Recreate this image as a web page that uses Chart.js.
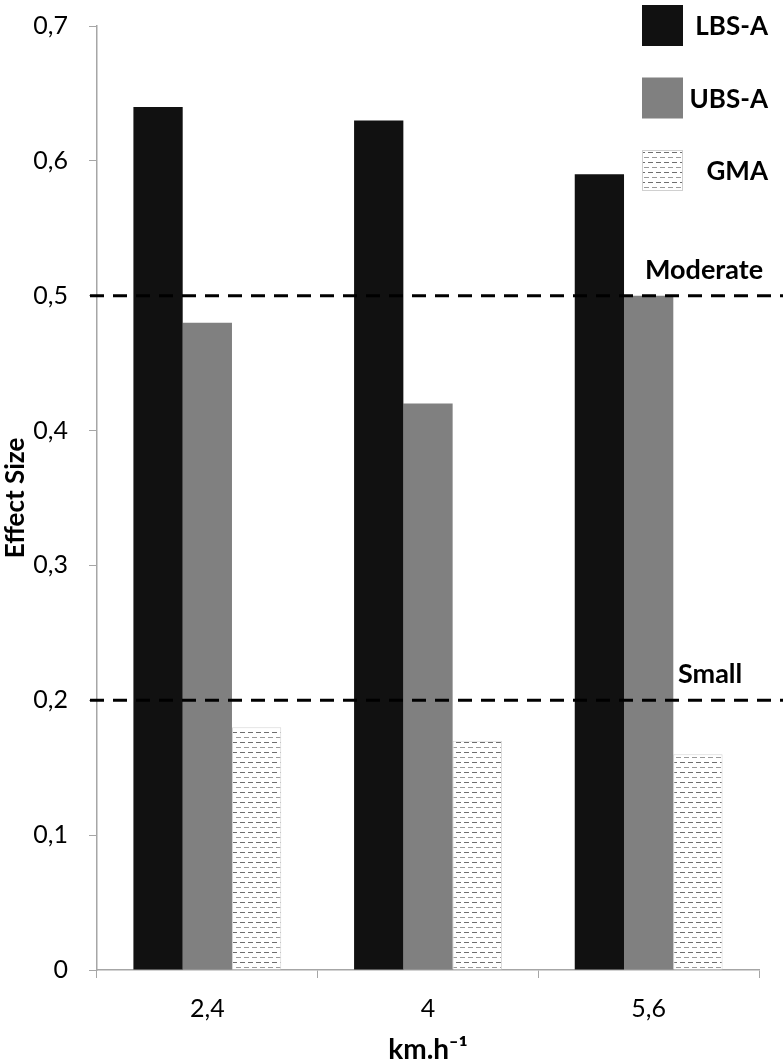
<!DOCTYPE html>
<html>
<head>
<meta charset="utf-8">
<script src="https://cdn.jsdelivr.net/npm/chart.js@4.4.1/dist/chart.umd.min.js"></script>
<style>
  html, body { margin: 0; padding: 0; background: #fff; }
  #wrap { width: 783px; height: 1062px; position: relative; }
</style>
</head>
<body>
<div id="wrap"><canvas id="esChart"></canvas></div>
<script>
// speeds on the x axis
const categories = ['2,4', '4', '5,6'];
const lbsValues = [0.64, 0.63, 0.59];
const ubsValues = [0.48, 0.42, 0.50];
const gmaValues = [0.18, 0.17, 0.16];
const yTickLabels = ['0', '0,1', '0,2', '0,3', '0,4', '0,5', '0,6', '0,7'];
const thresholds = [0.5, 0.2];
const thresholdNames = ['Moderate', 'Small'];

const FONT = 'Lato, "Open Sans", sans-serif';

// dashed fill used for the GMA bars
function makeDashPattern() {
    const c = document.createElement('canvas');
    c.width = 16;
    c.height = 10;
    const g = c.getContext('2d');
    g.fillStyle = '#ffffff';
    g.fillRect(0, 0, 16, 10);
    g.fillStyle = '#6e6e6e';
    g.fillRect(0, 2, 5, 1);
    g.fillRect(8, 2, 5, 1);
    g.fillStyle = '#9a9a9a';
    g.fillRect(4, 7, 5, 1);
    g.fillRect(12, 7, 4, 1);
    g.fillRect(0, 7, 1, 1);
    return document.getElementById('esChart').getContext('2d').createPattern(c, 'repeat');
}
const gmaPattern = makeDashPattern();

// Moderate / Small reference lines
const thresholdPlugin = {
    id: 'thresholds',
    afterDatasetsDraw(chart) {
        const ctx = chart.ctx;
        const y = chart.scales.y;
        const labelX = [645, 678];
        ctx.save();
        thresholds.forEach((t, i) => {
            const py = y.getPixelForValue(t);
            ctx.beginPath();
            ctx.setLineDash([14, 9]);
            ctx.lineWidth = 3;
            ctx.strokeStyle = '#000';
            ctx.moveTo(90, py);
            ctx.lineTo(chart.width, py);
            ctx.stroke();
            ctx.setLineDash([]);
            ctx.fillStyle = '#000';
            ctx.font = 'bold 27px ' + FONT;
            ctx.textAlign = 'left';
            ctx.textBaseline = 'alphabetic';
            ctx.fillText(thresholdNames[i], labelX[i], py - 17);
        });
        ctx.restore();
    }
};

// legend in the top right corner
const cornerLegend = {
    id: 'cornerLegend',
    afterDraw(chart) {
        const ctx = chart.ctx;
        ctx.save();
        chart.data.datasets.forEach((ds, i) => {
            const top = 5 + i * 72.5;
            ctx.fillStyle = ds.backgroundColor;
            ctx.fillRect(642, top, 41, 41);
            if (ds.borderWidth) {
                ctx.strokeStyle = '#d0d0d0';
                ctx.lineWidth = 1;
                ctx.strokeRect(642.5, top + 0.5, 40, 40);
            }
            ctx.fillStyle = '#000';
            ctx.font = 'bold 26px ' + FONT;
            ctx.textAlign = 'right';
            ctx.textBaseline = 'middle';
            ctx.fillText(ds.label, 768, top + 22);
        });
        ctx.restore();
    }
};

new Chart(document.getElementById('esChart'), {
    type: 'bar',
    data: {
        labels: categories,
        datasets: [
            { label: 'LBS-A', data: lbsValues, backgroundColor: '#111111', borderWidth: 0 },
            { label: 'UBS-A', data: ubsValues, backgroundColor: '#808080', borderWidth: 0 },
            { label: 'GMA', data: gmaValues, backgroundColor: gmaPattern, borderColor: '#d6d6d6', borderWidth: 1 }
        ]
    },
    options: {
        responsive: true,
        maintainAspectRatio: false,
        animation: false,
        events: [],
        layout: { padding: { top: 26, right: 24, bottom: 0, left: 0 } },
        datasets: { bar: { categoryPercentage: 0.67, barPercentage: 1.0 } },
        plugins: {
            legend: { display: false },
            tooltip: { enabled: false }
        },
        scales: {
            x: {
                grid: { drawOnChartArea: false, drawTicks: true, tickLength: 8, color: '#a6a6a6', offset: true },
                border: { color: '#a6a6a6', width: 1.5 },
                ticks: { color: '#000', font: { family: FONT, size: 25 }, padding: 16 },
                title: {
                    display: true,
                    text: 'km.h\u207B\u00B9',
                    color: '#000',
                    font: { family: FONT, size: 28, weight: 'bold' },
                    padding: { top: 0, bottom: -5 }
                },
                afterFit(scale) { scale.height = 92; }
            },
            y: {
                min: 0,
                max: 0.7,
                grid: { drawOnChartArea: false, drawTicks: true, tickLength: 8, color: '#a6a6a6' },
                border: { color: '#a6a6a6', width: 1.5 },
                ticks: {
                    stepSize: 0.1,
                    color: '#000',
                    font: { family: FONT, size: 25 },
                    padding: 21,
                    callback: (v, i) => yTickLabels[i]
                },
                title: {
                    display: true,
                    text: 'Effect Size',
                    color: '#000',
                    font: { family: FONT, size: 26, weight: 'bold' },
                    padding: { top: 0, bottom: 0 }
                },
                afterFit(scale) {
                    scale.width = 97;
                    scale.paddingTop = 0;
                    scale.paddingBottom = 0;
                }
            }
        }
    },
    plugins: [thresholdPlugin, cornerLegend]
});
</script>
</body>
</html>
